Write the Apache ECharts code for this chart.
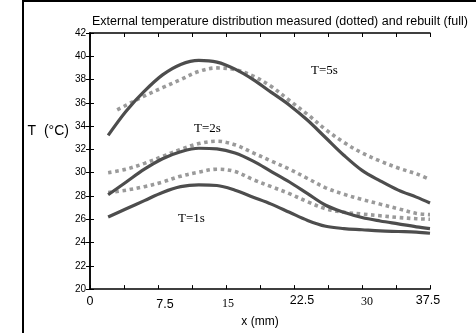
<!DOCTYPE html>
<html>
<head>
<meta charset="utf-8">
<script src="https://cdn.jsdelivr.net/npm/echarts@6/dist/echarts.min.js"></script>
<style>
  html, body { margin: 0; padding: 0; background: #fff; }
  #main { width: 476px; height: 333px; }
</style>
</head>
<body>
<div id="main"></div>
<script>
// positions along x (mm)
var xPos = [2, 4, 6, 8, 10, 12, 14, 16, 18, 20, 22, 24, 26, 28, 30, 32, 34, 36, 37.5];
var xPosMeas5 = [3, 4, 6, 8, 10, 12, 14, 16, 18, 20, 22, 24, 26, 28, 30, 32, 34, 36, 37.5];

// rebuilt (full lines)
var rebuilt5 = [33.2, 35.3, 37.0, 38.4, 39.3, 39.65, 39.5, 38.9, 38.0, 36.9, 35.8, 34.5, 33.0, 31.5, 30.2, 29.3, 28.5, 27.9, 27.4];
var rebuilt2 = [28.1, 29.2, 30.3, 31.2, 31.8, 32.1, 32.05, 31.7, 31.0, 30.1, 29.2, 28.2, 27.2, 26.6, 26.15, 25.85, 25.6, 25.35, 25.2];
var rebuilt1 = [26.2, 26.9, 27.6, 28.3, 28.8, 28.95, 28.9, 28.5, 27.9, 27.3, 26.6, 25.9, 25.4, 25.2, 25.1, 25.0, 24.95, 24.9, 24.8];

// measured (dotted lines)
var measured5 = [35.4, 35.8, 36.6, 37.3, 38.0, 38.7, 39.0, 38.85, 38.3, 37.4, 36.2, 35.0, 33.7, 32.6, 31.7, 31.0, 30.4, 29.9, 29.4];
var measured2 = [30.0, 30.3, 30.8, 31.4, 32.0, 32.5, 32.7, 32.4, 31.7, 31.0, 30.3, 29.5, 28.7, 28.15, 27.7, 27.3, 26.9, 26.5, 26.4];
var measured1 = [28.3, 28.5, 28.8, 29.2, 29.7, 30.05, 30.3, 30.1, 29.4, 28.8, 28.2, 27.5, 26.9, 26.6, 26.45, 26.3, 26.15, 26.05, 26.0];

var xTicks = [0, 7.5, 15, 22.5, 30, 37.5];

function pairs(xs, ys) {
  return xs.map(function (x, i) { return [x, ys[i]]; });
}

var myChart = echarts.init(document.getElementById("main"));

var solid = { color: "#4d4d4d", width: 3.2 };
var dotted = { color: "#9a9a9a", width: 3.6, type: [3.6, 3.6], cap: "butt" };

function line(data, style) {
  return {
    type: "line",
    data: data,
    smooth: 0.35,
    showSymbol: false,
    lineStyle: style,
    xAxisIndex: 0,
    yAxisIndex: 0
  };
}

// tick label looks (the source mixes fonts and nudges a few labels)
var xLabelStyle = {
  "0": "a",
  "7.5": "b",
  "15": "c",
  "22.5": "d",
  "30": "e",
  "37.5": "f"
};
var sans = "Liberation Sans", serif = "Liberation Serif";

myChart.setOption({
  animation: false,
  title: {
    text: "External temperature distribution measured (dotted) and rebuilt (full)",
    left: 87,
    top: 10,
    textStyle: { fontFamily: sans, fontSize: 12.5, fontWeight: "normal", color: "#000" }
  },
  grid: { left: 90, right: 46, top: 33, bottom: 33 },
  xAxis: [
    {
      type: "value",
      min: 0, max: 37.5, interval: 3.75,
      name: "x (mm)",
      nameLocation: "middle",
      nameGap: 22,
      nameTextStyle: { fontFamily: sans, fontSize: 12, color: "#000" },
      axisLine: { lineStyle: { color: "#000", width: 1.5 } },
      axisTick: { inside: true, length: 4, lineStyle: { color: "#000" } },
      splitLine: { show: false },
      axisLabel: {
        margin: 5,
        color: "#000",
        formatter: function (v) {
          if (xTicks.indexOf(v) < 0) return "";
          return "{" + xLabelStyle[String(v)] + "|" + v + "}";
        },
        rich: {
          a: { fontFamily: sans, fontSize: 12.5, color: "#000", padding: [1, 0, 0, 0] },
          b: { fontFamily: sans, fontSize: 12.5, color: "#000", padding: [4, 0, 0, 14] },
          c: { fontFamily: serif, fontSize: 12, color: "#000", padding: [4, 0, 0, 4] },
          d: { fontFamily: sans, fontSize: 12.5, color: "#000", padding: [0, 0, 0, 16] },
          e: { fontFamily: serif, fontSize: 12, color: "#000", padding: [2, 0, 0, 10] },
          f: { fontFamily: sans, fontSize: 12.5, color: "#000", padding: [0, 4, 0, 0] }
        }
      }
    },
    {
      type: "value", position: "top",
      min: 0, max: 37.5, interval: 3.75,
      axisLine: { lineStyle: { color: "#000", width: 1.5 } },
      axisTick: { inside: true, length: 4, lineStyle: { color: "#000" } },
      axisLabel: { show: false },
      splitLine: { show: false }
    }
  ],
  yAxis: [
    {
      type: "value",
      min: 20, max: 42, interval: 2,
      name: "{t|T  (°C)}",
      nameLocation: "middle",
      nameRotate: 0,
      nameGap: 31,
      nameTextStyle: {
        align: "center",
        rich: { t: { fontFamily: sans, fontSize: 14, color: "#000", padding: [0, 0, 60, 0] } }
      },
      axisLine: { lineStyle: { color: "#000", width: 1.5 } },
      axisTick: { inside: true, length: 4, lineStyle: { color: "#000" } },
      splitLine: { show: false },
      axisLabel: { margin: 4, color: "#000", fontFamily: sans, fontSize: 10 }
    },
    {
      type: "value", position: "right",
      min: 20, max: 42, interval: 2,
      axisLine: { lineStyle: { color: "#000", width: 1.5 } },
      axisTick: { inside: true, length: 4, lineStyle: { color: "#000" } },
      axisLabel: { show: false },
      splitLine: { show: false }
    }
  ],
  series: [
    line(pairs(xPosMeas5, measured5), dotted),
    line(pairs(xPos, measured2), dotted),
    line(pairs(xPos, measured1), dotted),
    line(pairs(xPos, rebuilt5), solid),
    line(pairs(xPos, rebuilt2), solid),
    line(pairs(xPos, rebuilt1), solid)
  ],
  graphic: [
    { type: "line", shape: { x1: 23, y1: 0, x2: 23, y2: 333 }, style: { stroke: "#000", lineWidth: 2 } },
    { type: "line", shape: { x1: 23, y1: 1, x2: 476, y2: 1 }, style: { stroke: "#000", lineWidth: 2 } },
    { type: "text", left: 311, top: 64, style: { text: "T=5s", font: "13px 'Liberation Serif'", fill: "#000" } },
    { type: "text", left: 194, top: 122, style: { text: "T=2s", font: "13px 'Liberation Serif'", fill: "#000" } },
    { type: "text", left: 178, top: 212, style: { text: "T=1s", font: "13px 'Liberation Serif'", fill: "#000" } }
  ]
});
</script>
</body>
</html>
